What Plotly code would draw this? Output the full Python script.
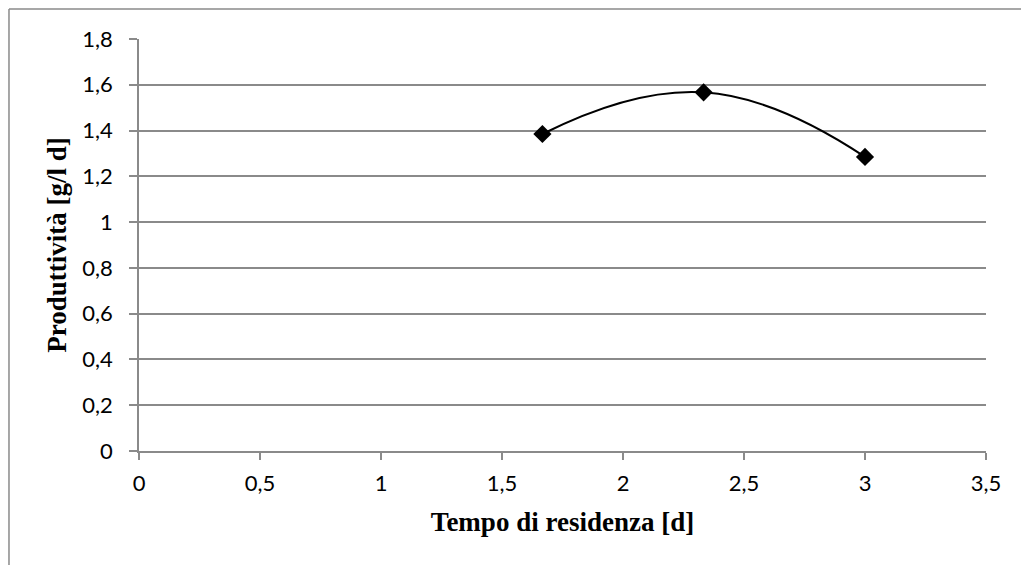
import plotly.graph_objects as go

# Residence time [d] and productivity [g/l d]
tempo = [1.667, 2.333, 3.0]
produttivita = [1.385, 1.567, 1.285]

x_ticks = [0, 0.5, 1, 1.5, 2, 2.5, 3, 3.5]
x_labels = ["0", "0,5", "1", "1,5", "2", "2,5", "3", "3,5"]
y_ticks = [0, 0.2, 0.4, 0.6, 0.8, 1.0, 1.2, 1.4, 1.6, 1.8]
y_labels = ["0", "0,2", "0,4", "0,6", "0,8", "1", "1,2", "1,4", "1,6", "1,8"]

GRID = "#8a8a8a"
TICK_FONT = dict(family="Lato", size=22, color="#000000")
TITLE_FONT = dict(family="Liberation Serif", size=27, color="#000000")

fig = go.Figure()
fig.add_trace(go.Scatter(
    x=tempo, y=produttivita,
    mode="lines+markers",
    line=dict(color="#000000", width=2, shape="spline", smoothing=1.3),
    marker=dict(symbol="diamond", size=14, color="#000000"),
    showlegend=False,
))

fig.update_layout(
    width=1021, height=565,
    margin=dict(l=139, r=35, t=39, b=114),
    paper_bgcolor="#ffffff", plot_bgcolor="#ffffff",
    xaxis=dict(
        range=[0, 3.5], tickvals=x_ticks, ticktext=x_labels,
        showgrid=False, zeroline=False,
        showline=True, linecolor=GRID, linewidth=1.5,
        ticks="outside", ticklen=7, tickcolor=GRID, tickwidth=1.5,
        tickfont=TICK_FONT, ticklabelstandoff=5,
        title=dict(text="<b>Tempo di residenza [d]</b>", font=TITLE_FONT, standoff=17),
    ),
    yaxis=dict(
        range=[0, 1.8], tickvals=y_ticks, ticktext=y_labels,
        showgrid=True, gridcolor=GRID, gridwidth=1.5, zeroline=False,
        showline=True, linecolor=GRID, linewidth=1.5,
        ticks="outside", ticklen=8, tickcolor=GRID, tickwidth=1.5,
        tickfont=TICK_FONT, ticklabelstandoff=12,
        title=dict(text="<b>Produttività [g/l d]</b>", font=TITLE_FONT, standoff=8),
    ),
    shapes=[
        dict(type="line", xref="paper", yref="paper", x0=-0.1535, x1=-0.1535, y0=1.0728, y1=-0.5,
             line=dict(color=GRID, width=1.5)),
        dict(type="line", xref="paper", yref="paper", x0=-0.1535, x1=1.2, y0=1.0728, y1=1.0728,
             line=dict(color=GRID, width=1.5)),
    ],
)

fig.write_html("out.html")
